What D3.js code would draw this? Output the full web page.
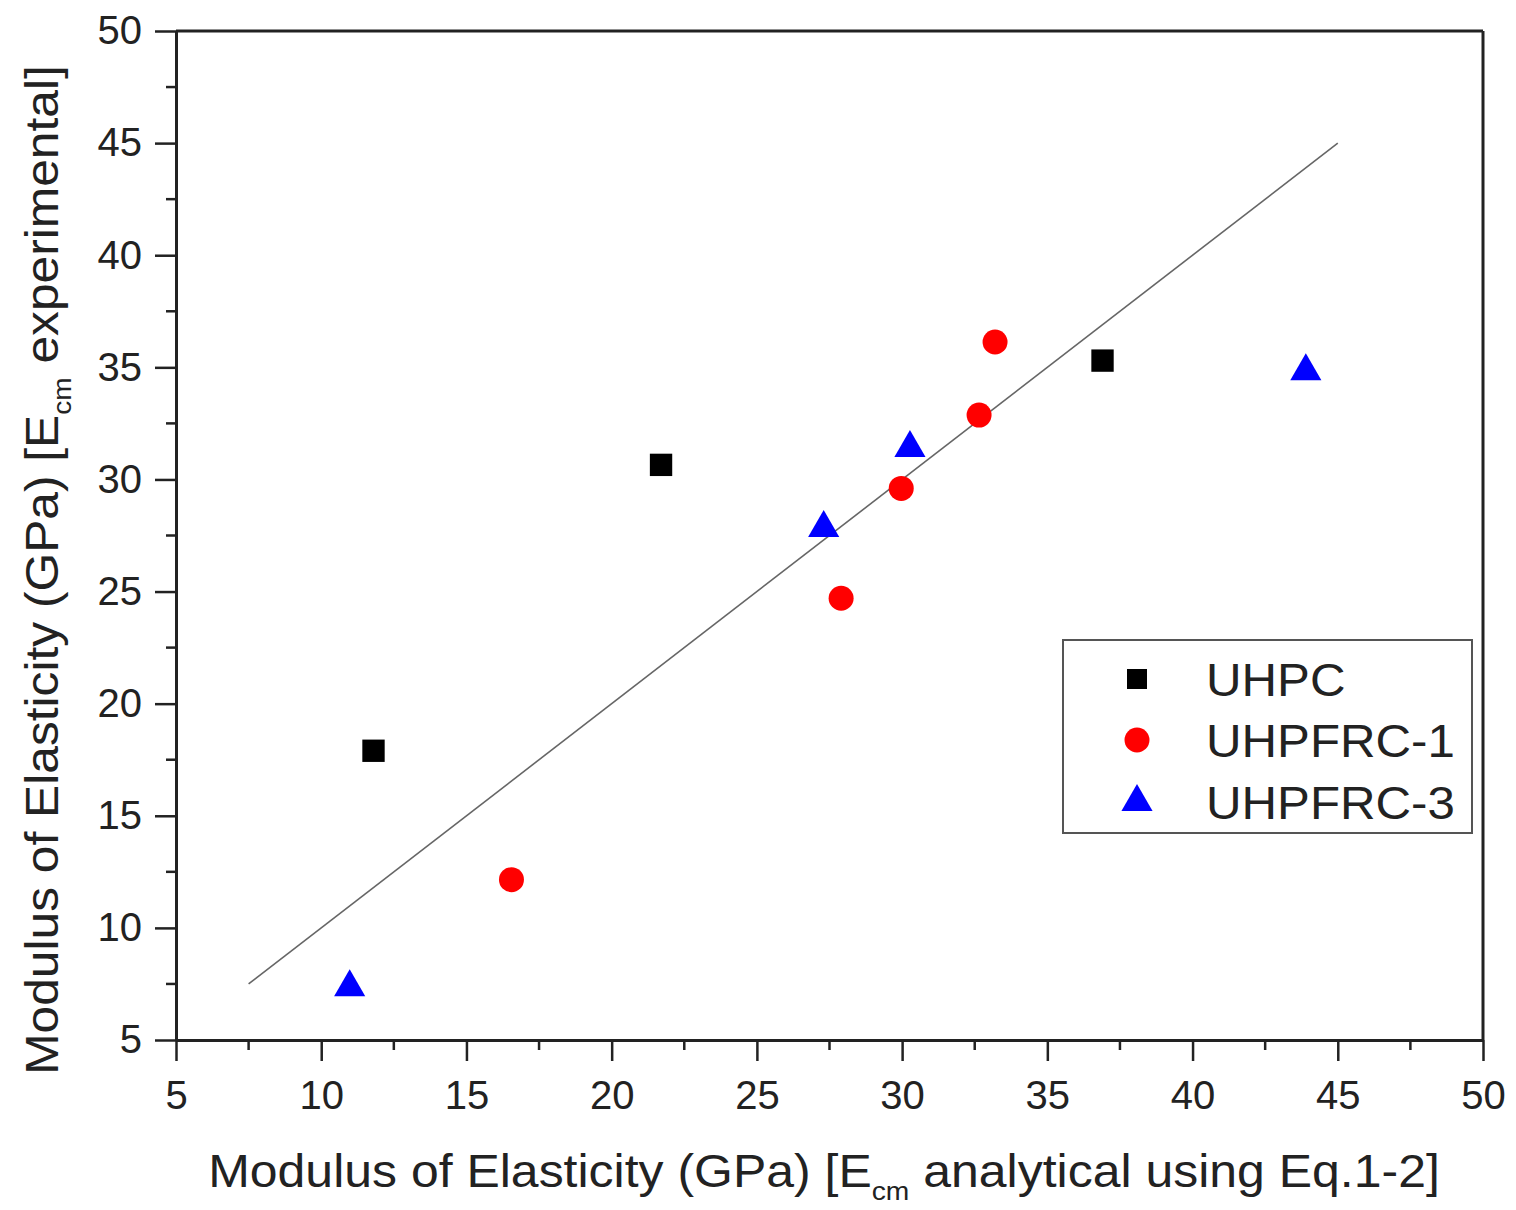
<!DOCTYPE html>
<html><head><meta charset="utf-8">
<script src="https://cdn.jsdelivr.net/npm/d3@7"></script>
<style>body{margin:0;background:#fff}svg{display:block}text{font-family:"Liberation Sans",Arial,sans-serif}</style>
</head><body>
<script>
const xTicks = [5,10,15,20,25,30,35,40,45,50];
const yTicks = [5,10,15,20,25,30,35,40,45,50];
const seriesNames = ["UHPC","UHPFRC-1","UHPFRC-3"];
const uhpcX = [11.8, 21.7, 36.9];
const uhpcY = [17.9, 30.65, 35.3];
const uhpfrc1X = [16.55, 27.9, 29.97, 32.65, 33.2];
const uhpfrc1Y = [12.15, 24.7, 29.6, 32.87, 36.13];
const uhpfrc3X = [10.98, 27.3, 30.27, 43.9];
const uhpfrc3Y = [7.35, 27.83, 31.4, 34.83];
const refLine = [7.5, 45];

const W=1516,H=1210;
const L=176,R=1483,T=31,B=1040;
const svg=d3.select("body").append("svg").attr("width",W).attr("height",H);
const x=d3.scaleLinear().domain([5,50]).range([L,R]);
const y=d3.scaleLinear().domain([5,50]).range([B,T]);

const minors=d3.range(7.5,50,5);
const g=svg.append("g");
g.selectAll(".mx").data(minors).join("line").attr("x1",d=>x(d)).attr("x2",d=>x(d)).attr("y1",B).attr("y2",B+10).attr("stroke","#222").attr("stroke-width",2.5);
g.selectAll(".my").data(minors).join("line").attr("y1",d=>y(d)).attr("y2",d=>y(d)).attr("x1",L).attr("x2",L-10).attr("stroke","#222").attr("stroke-width",2.5);

const xAxis=svg.append("g").attr("transform",`translate(0,${B})`).call(d3.axisBottom(x).tickValues(xTicks).tickSize(21).tickPadding(20).tickSizeOuter(0));
const yAxis=svg.append("g").attr("transform",`translate(${L},0)`).call(d3.axisLeft(y).tickValues(yTicks).tickSize(21).tickPadding(13).tickSizeOuter(0));
[xAxis,yAxis].forEach(a=>{
  a.select(".domain").attr("stroke","#222").attr("stroke-width",3);
  a.selectAll(".tick line").attr("stroke","#222").attr("stroke-width",2.5);
  a.selectAll(".tick text").attr("font-size",40).attr("fill","#222").attr("font-family","Liberation Sans, Arial, sans-serif");
});
svg.append("line").attr("x1",L).attr("x2",R).attr("y1",T).attr("y2",T).attr("stroke","#222").attr("stroke-width",3);
svg.append("line").attr("x1",R).attr("x2",R).attr("y1",T).attr("y2",B).attr("stroke","#222").attr("stroke-width",3);

svg.append("line").attr("x1",x(refLine[0])).attr("y1",y(refLine[0])).attr("x2",x(refLine[1])).attr("y2",y(refLine[1])).attr("stroke","#666").attr("stroke-width",1.6);

const sq=d3.symbol().type(d3.symbolSquare).size(500);
const ci=d3.symbol().type(d3.symbolCircle).size(490);
const tr=d3.symbol().type(d3.symbolTriangle).size(420);
function pts(xs,ys){return xs.map((v,i)=>[v,ys[i]]);}
svg.selectAll(".s1").data(pts(uhpcX,uhpcY)).join("path").attr("d",sq).attr("transform",d=>`translate(${x(d[0])},${y(d[1])})`).attr("fill","#000");
svg.selectAll(".s2").data(pts(uhpfrc1X,uhpfrc1Y)).join("path").attr("d",ci).attr("transform",d=>`translate(${x(d[0])},${y(d[1])})`).attr("fill","#ff0000");
svg.selectAll(".s3").data(pts(uhpfrc3X,uhpfrc3Y)).join("path").attr("d",tr).attr("transform",d=>`translate(${x(d[0])},${y(d[1])})`).attr("fill","#0000ff");

// legend
const lg=svg.append("g");
lg.append("rect").attr("x",1063).attr("y",640).attr("width",409).attr("height",193).attr("fill","#fff").attr("stroke","#555").attr("stroke-width",2);
const cols=["#000","#ff0000","#0000ff"],rows=[679,740,802];
const legSyms=[d3.symbol().type(d3.symbolSquare).size(400),d3.symbol().type(d3.symbolCircle).size(490),d3.symbol().type(d3.symbolTriangle).size(420)];
seriesNames.forEach((n,i)=>{
  lg.append("path").attr("d",legSyms[i]).attr("transform",`translate(1137,${rows[i]})`).attr("fill",cols[i]);
  lg.append("g").attr("transform",`translate(1206,${rows[i]+17}) scale(1.07,1)`)
    .append("text").attr("x",0).attr("y",0).attr("font-size",46).attr("fill","#222").text(n);
});

function fit(txt, target){
  const w=txt.node().getBBox().width;
  return target/w;
}
// x title
const xg=svg.append("g");
const xt=xg.append("text").attr("x",0).attr("y",0).attr("text-anchor","middle").attr("font-size",46).attr("fill","#222");
xt.append("tspan").text("Modulus of Elasticity (GPa) [E");
xt.append("tspan").attr("font-size",26).attr("dy",13).text("cm");
xt.append("tspan").attr("dy",-13).text(" analytical using Eq.1-2]");
const sx=fit(xt,1232);
xg.attr("transform",`translate(824,1187) scale(${sx},1)`);
// y title
const yg=svg.append("g");
const yt=yg.append("text").attr("x",0).attr("y",0).attr("text-anchor","middle").attr("font-size",46).attr("fill","#222");
yt.append("tspan").text("Modulus of Elasticity (GPa) [E");
yt.append("tspan").attr("font-size",26).attr("dy",13).text("cm");
yt.append("tspan").attr("dy",-13).text(" experimental]");
const sy=fit(yt,1010);
yg.attr("transform",`translate(58,570) rotate(-90) scale(${sy},1)`);
</script>
</body></html>
